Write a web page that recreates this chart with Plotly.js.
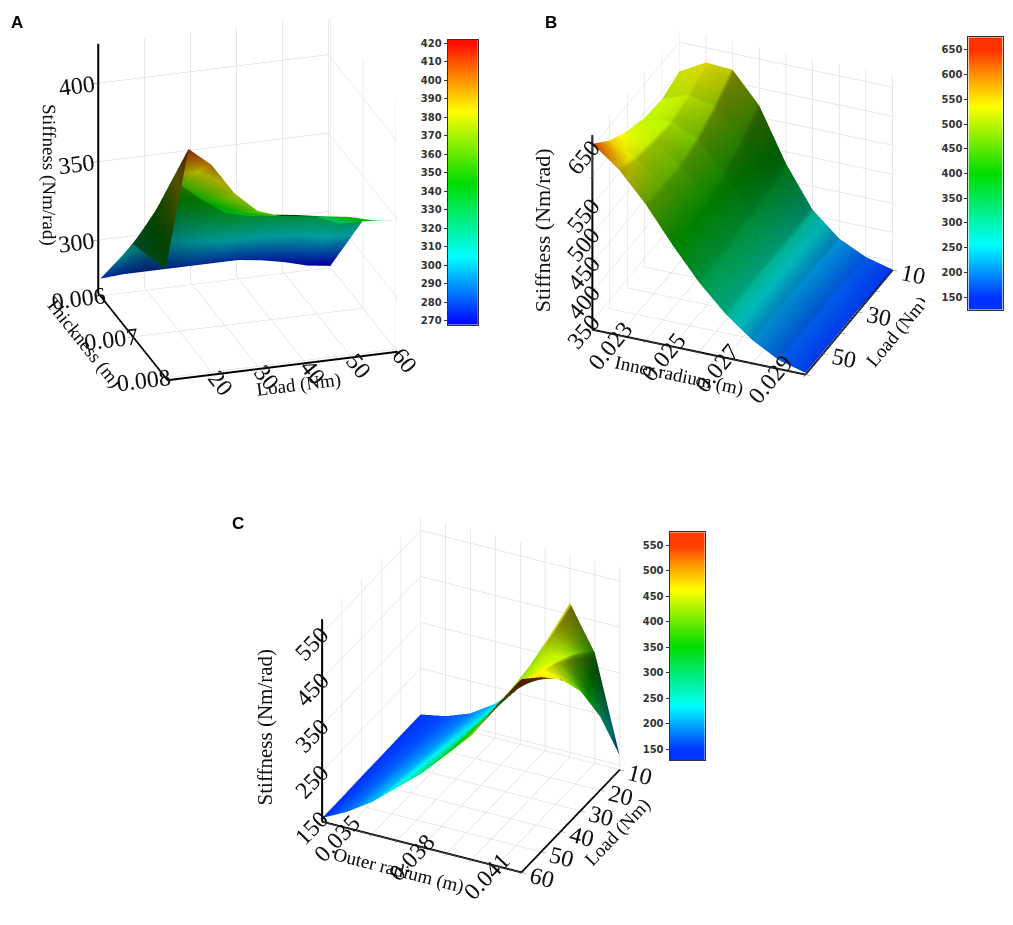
<!DOCTYPE html>
<html>
<head>
<meta charset="utf-8">
<script src="https://cdn.plot.ly/plotly-3.0.1.min.js"></script>
<style>html,body{margin:0;padding:0;background:#fff;}#chart{width:1013px;height:925px;}</style>
</head>
<body>
<div id="chart"></div>
<script>
// ---------- Panel A : Load x Thickness ----------
const loadA = [10, 15, 20, 25, 30, 35, 40, 45, 50, 55, 60];
const thicknessA = [0.006, 0.007, 0.008];
const stiffnessA = [
  [277, 278, 278, 278, 278, 278, 278, 276, 273, 269, 267],
  [325, 345, 360, 348, 338, 334, 333, 331, 328, 322, 322],
  [335, 410, 398, 378, 365, 360, 358, 356, 354, 350, 348]
];
const loadTicksA = [20, 30, 40, 50, 60];
const thicknessTicksA = [0.006, 0.007, 0.008];
const thicknessLabelsA = ['0.006', '0.007', '0.008'];
const stiffTicksA = [300, 350, 400];
const colorTicksA = [270, 280, 290, 300, 310, 320, 330, 340, 350, 360, 370, 380, 390, 400, 410, 420];

// ---------- Panel B : Load x Inner radius ----------
const loadB = [10, 20, 30, 40, 50, 60];
const innerRadiusB = [0.022, 0.023, 0.024, 0.025, 0.026, 0.027, 0.028, 0.029, 0.030];
const stiffnessB = [
  [600, 588, 592, 605, 625, 655],
  [625, 605, 595, 598, 605, 620],
  [622, 595, 575, 565, 565, 570],
  [570, 545, 525, 515, 510, 510],
  [480, 470, 462, 458, 455, 455],
  [410, 410, 410, 410, 410, 410],
  [370, 372, 374, 375, 375, 375],
  [348, 349, 350, 350, 350, 350],
  [336, 337, 338, 338, 338, 338]
];
// colour value shown on the surface (read against the colour bar)
const colourB = [
  [520, 505, 505, 520, 560, 640],
  [540, 515, 500, 505, 520, 560],
  [530, 500, 480, 470, 470, 480],
  [470, 440, 420, 410, 405, 405],
  [380, 365, 355, 350, 345, 345],
  [290, 290, 290, 290, 290, 290],
  [215, 215, 216, 216, 216, 216],
  [175, 176, 178, 178, 178, 178],
  [155, 156, 158, 158, 158, 158]
];
const loadTicksB = [10, 20, 30, 40, 50, 60];
const loadLabelsB = ['10', '', '30', '', '50', ''];
const radiusTicksB = [0.023, 0.024, 0.025, 0.026, 0.027, 0.028, 0.029, 0.030];
const radiusLabelsB = ['0.023', '', '0.025', '', '0.027', '', '0.029', ''];
const stiffTicksB = [350, 400, 450, 500, 550, 600, 650];
const stiffLabelsB = ['350', '400', '450', '500', '550', '', '650'];
const colorTicksB = [150, 200, 250, 300, 350, 400, 450, 500, 550, 600, 650];

// ---------- Panel C : Load x Outer radius ----------
const loadC = [10, 20, 30, 40, 50, 60];
const outerRadiusC = [0.034, 0.035, 0.036, 0.037, 0.038, 0.039, 0.040, 0.041, 0.042];
const stiffnessC = [
  [150, 150, 149, 149, 148, 148],
  [160, 163, 166, 169, 172, 175],
  [180, 186, 192, 198, 204, 210],
  [215, 222, 230, 238, 246, 255],
  [265, 272, 280, 287, 294, 300],
  [330, 336, 342, 346, 350, 355],
  [475, 450, 430, 420, 415, 410],
  [380, 420, 450, 470, 480, 490],
  [170, 300, 400, 470, 520, 560]
];
const loadTicksC = [10, 20, 30, 40, 50, 60];
const radiusTicksC = [0.035, 0.036, 0.037, 0.038, 0.039, 0.040, 0.041, 0.042];
const radiusLabelsC = ['0.035', '', '', '0.038', '', '', '0.041', ''];
const stiffTicksC = [150, 250, 350, 450, 550];
const colorTicksC = [150, 200, 250, 300, 350, 400, 450, 500, 550];

// ---------- styles ----------
const rainbow = [
  [0, '#0000ff'], [0.24, '#00ffff'], [0.5, '#00dd00'],
  [0.75, '#ffff00'], [0.88, '#ff8000'], [1, '#ff0000']
];
const serif = 'Liberation Serif, Times New Roman, serif';
const lighting = {ambient: 0.3, diffuse: 0.8, specular: 0.3, roughness: 0.5, fresnel: 0.2};

function ax3(title, extra) {
  return Object.assign({
    title: {text: title, font: {family: serif, size: 19, color: '#111'}},
    showbackground: false,
    gridcolor: '#d4d4d4', gridwidth: 1,
    showline: true, linecolor: '#000', linewidth: 4,
    zeroline: false, showspikes: false,
    ticks: 'outside', ticklen: 5, tickcolor: '#666',
    tickfont: {family: serif, size: 17, color: '#111'}
  }, extra);
}
function barAxes(xd, yd, range, ticks) {
  const xa = {domain: xd, range: [-0.5, 1.5], showticklabels: false, ticks: '', showgrid: false,
              zeroline: false, showline: true, mirror: true, linecolor: '#333', linewidth: 1, fixedrange: true};
  const ya = {domain: yd, range: range, side: 'left', tickvals: ticks, ticks: 'outside', ticklen: 3,
              tickcolor: '#333', showgrid: false, zeroline: false, showline: true, mirror: true,
              linecolor: '#333', linewidth: 1, fixedrange: true,
              tickfont: {family: 'DejaVu Sans, Verdana, sans-serif', size: 10, color: '#333', weight: 'bold'}};
  return [xa, ya];
}

const traces = [
  {type: 'surface', scene: 'scene', x: loadA, y: thicknessA, z: stiffnessA,
   colorscale: rainbow, cmin: 268, cmax: 422, showscale: false, lighting: lighting, hoverinfo: 'skip'},
  {type: 'surface', scene: 'scene2', x: loadB, y: innerRadiusB, z: stiffnessB, surfacecolor: colourB,
   colorscale: rainbow, cmin: 124, cmax: 676, showscale: false, lighting: lighting, hoverinfo: 'skip'},
  {type: 'surface', scene: 'scene3', x: loadC, y: outerRadiusC, z: stiffnessC,
   colorscale: rainbow, cmin: 128, cmax: 576, showscale: false, lighting: lighting, hoverinfo: 'skip'},
  {type: 'heatmap', xaxis: 'x', yaxis: 'y', x: [0, 1], y: colorTicksA, z: colorTicksA.map(v => [v, v]),
   zsmooth: 'best', colorscale: rainbow, zmin: 268, zmax: 422, showscale: false, hoverinfo: 'skip'},
  {type: 'heatmap', xaxis: 'x2', yaxis: 'y2', x: [0, 1], y: colorTicksB, z: colorTicksB.map(v => [v, v]),
   zsmooth: 'best', colorscale: rainbow, zmin: 124, zmax: 676, showscale: false, hoverinfo: 'skip'},
  {type: 'heatmap', xaxis: 'x3', yaxis: 'y3', x: [0, 1], y: colorTicksC, z: colorTicksC.map(v => [v, v]),
   zsmooth: 'best', colorscale: rainbow, zmin: 128, zmax: 576, showscale: false, hoverinfo: 'skip'}
];

const [bxA, byA] = barAxes([0.442, 0.472], [0.649, 0.957], [268, 422], colorTicksA);
const [bxB, byB] = barAxes([0.956, 0.990], [0.665, 0.960], [124, 676], colorTicksB);
const [bxC, byC] = barAxes([0.661, 0.696], [0.178, 0.425], [128, 576], colorTicksC);
bxA.anchor = 'y'; byA.anchor = 'x';
bxB.anchor = 'y2'; byB.anchor = 'x2';
bxC.anchor = 'y3'; byC.anchor = 'x3';

const annFont = {family: 'Liberation Sans, Arial, sans-serif', size: 17, color: '#000'};
const layout = {
  width: 1013, height: 925,
  margin: {l: 0, r: 0, t: 0, b: 0},
  paper_bgcolor: '#ffffff', plot_bgcolor: '#ffffff',
  showlegend: false,
  xaxis: bxA, yaxis: byA, xaxis2: bxB, yaxis2: byB, xaxis3: bxC, yaxis3: byC,
  scene: {
    domain: {x: [0.03, 0.46], y: [0.545, 0.98]},
    aspectmode: 'manual', aspectratio: {x: 1.2, y: 1.15, z: 1.35},
    camera: {eye: {x: -0.65, y: -2.07, z: 0.81}, center: {x: 0, y: 0, z: -0.12}, projection: {type: 'orthographic'}},
    xaxis: ax3('Load (Nm)', {range: [10, 60], tickvals: loadTicksA}),
    yaxis: ax3('Thickness (m)', {autorange: 'reversed', tickvals: thicknessTicksA, ticktext: thicknessLabelsA}),
    zaxis: ax3('Stiffness (Nm/rad)', {range: [266, 425], tickvals: stiffTicksA})
  },
  scene2: {
    domain: {x: [0.553, 0.913], y: [0.545, 0.98]},
    aspectmode: 'manual', aspectratio: {x: 1.12, y: 1.15, z: 1.12},
    camera: {eye: {x: 1.79, y: 0.75, z: 1.03}, center: {x: 0, y: 0, z: -0.1}, projection: {type: 'orthographic'}},
    xaxis: ax3('Load (Nm)', {range: [10, 60], tickvals: loadTicksB, ticktext: loadLabelsB}),
    yaxis: ax3('Inner radium (m)', {range: [0.022, 0.030], tickvals: radiusTicksB, ticktext: radiusLabelsB}),
    zaxis: ax3('', {range: [335, 670], tickvals: stiffTicksB, ticktext: stiffLabelsB})
  },
  scene3: {
    domain: {x: [0.25, 0.68], y: [0.0, 0.5]},
    aspectmode: 'manual', aspectratio: {x: 0.96, y: 0.96, z: 1.02},
    camera: {eye: {x: 1.7, y: 0.84, z: 1.14}, center: {x: 0, y: 0, z: 0}, projection: {type: 'orthographic'}},
    xaxis: ax3('Load (Nm)', {range: [10, 60], tickvals: loadTicksC}),
    yaxis: ax3('Outer radium (m)', {range: [0.034, 0.042], tickvals: radiusTicksC, ticktext: radiusLabelsC}),
    zaxis: ax3('', {range: [140, 580], tickvals: stiffTicksC})
  },
  annotations: [
    {text: '<b>A</b>', xref: 'paper', yref: 'paper', x: 0.009, y: 0.988, xanchor: 'left', yanchor: 'top',
     showarrow: false, font: annFont},
    {text: '<b>B</b>', xref: 'paper', yref: 'paper', x: 0.536, y: 0.988, xanchor: 'left', yanchor: 'top',
     showarrow: false, font: annFont},
    {text: '<b>C</b>', xref: 'paper', yref: 'paper', x: 0.227, y: 0.447, xanchor: 'left', yanchor: 'top',
     showarrow: false, font: annFont},
    {text: 'Stiffness (Nm/rad)', xref: 'paper', yref: 'paper', x: 0.535, y: 0.751, xanchor: 'center',
     yanchor: 'middle', textangle: -90, showarrow: false, font: {family: serif, size: 22, color: '#111'}},
    {text: 'Stiffness (Nm/rad)', xref: 'paper', yref: 'paper', x: 0.262, y: 0.214, xanchor: 'center',
     yanchor: 'middle', textangle: -90, showarrow: false, font: {family: serif, size: 21, color: '#111'}}
  ]
};

Plotly.newPlot('chart', traces, layout, {displayModeBar: false}).catch(function (e) {
  document.body.insertAdjacentHTML('beforeend', '<pre>' + e + '</pre>');
});
</script>
</body>
</html>
